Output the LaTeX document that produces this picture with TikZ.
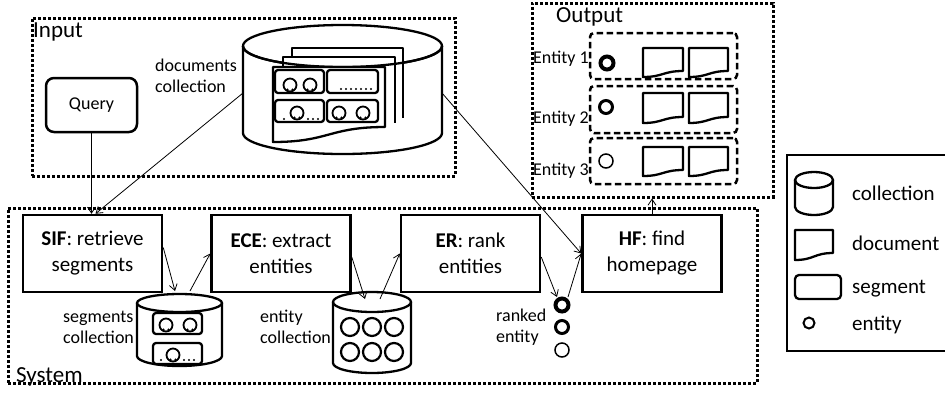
\documentclass[tikz,border=0pt]{standalone}
\usepackage{fontspec}
\setmainfont{Carlito}
\usetikzlibrary{arrows.meta}
\newcommand\mydoc[5]{\draw[shp, fill=white] (#1,#4) -- (#1,#3) -- (#2,#3) -- (#2,#5) .. controls ({(#1+#2)/2},#5) and ({(#1+#2)/2},#4) .. (#1,#4) -- cycle;}
\newcommand\myseg[4]{\draw[shp, rounded corners=3pt, fill=white] (#1,#3) rectangle (#2,#4);}
\newcommand\segcirc[2]{\draw[line width=1.8pt] (#1,#2) circle[radius=6.5pt];
  \fill ({#1-2.5},{#2+4.5}) circle[radius=1.1pt]; \fill ({#1+2.5},{#2+4.5}) circle[radius=1.1pt];}
\newcommand\mydots[2]{\foreach \xx in {#1} {\fill (\xx,#2) circle[radius=1.1pt];}}
\begin{document}
\begin{tikzpicture}[x=1pt,y=-1pt,
  shp/.style={line width=2.3pt, line join=round},
  dotbox/.style={draw, line width=3pt, dash pattern=on 3pt off 2pt, inner sep=0pt},
  dashbox/.style={draw, line width=2.5pt, dash pattern=on 6.5pt off 3.5pt, rounded corners=4pt, inner sep=0pt, minimum width=147pt},
  procbox/.style={draw, line width=2.5pt, minimum width=139pt, minimum height=77pt, inner sep=0pt, align=center, font=\fontsize{21}{26}\selectfont},
  conn/.style={line width=0.8pt, -{Straight Barb[length=6pt,width=8pt]}},
  lbl/.style={inner sep=0pt, align=left, font=\fontsize{18}{21}\selectfont},
  biglbl/.style={inner sep=0pt, font=\fontsize{23}{26}\selectfont},
  leglbl/.style={inner sep=0pt, font=\fontsize{21}{24}\selectfont, anchor=base west},
]
\useasboundingbox (0,0) rectangle (945,392);

% frames
\node[dotbox, minimum width=423pt, minimum height=158pt] (inbox) at (243.5,97) {};
\node[dotbox, minimum width=241pt, minimum height=194pt] (outbox) at (652.5,100) {};
\node[dotbox, minimum width=749pt, minimum height=175pt] (sysbox) at (382.5,295.5) {};
\node[biglbl, anchor=base west] (inlbl) at (33,37) {Input};
\node[biglbl, anchor=base west] (outlbl) at (556,22) {Output};
\node[biglbl, anchor=base west] (syslbl) at (16,382) {System};

% query
\node[draw, line width=2.5pt, rounded corners=8pt, minimum width=91pt, minimum height=54pt, inner sep=0pt, font=\fontsize{18}{21}\selectfont] (query) at (91.5,105) {Query};

% documents collection
\draw[shp, fill=white] (243,46) -- (243,133) arc[start angle=180, end angle=360, x radius=99.5pt, y radius=21pt] -- (442,46);
\draw[shp] (342.5,46) ellipse[x radius=99.5pt, y radius=21pt];
\draw[shp, fill=white] (292,118) -- (292,48) -- (403,48) -- (403,118);
\draw[shp, fill=white] (283,123) -- (283,57) -- (395,57) -- (395,123);
\draw[shp] (243,46) arc[start angle=180, end angle=360, x radius=99.5pt, y radius=21pt];
\mydoc{273}{385}{67}{142}{127}
\myseg{275}{324}{70}{93}
\myseg{327}{378}{70}{93}
\myseg{275}{324}{100}{122}
\myseg{327}{378}{100}{122}
\segcirc{290}{85}\segcirc{310}{85}
\mydots{341,346,351,356,361,366,371}{89}
\mydots{284,308,313,318}{119}
\segcirc{297}{113}
\segcirc{339}{113}\segcirc{363}{113}
\node[lbl, anchor=base west] (doclbl) at (155,92) {documents\\collection};

% process boxes
\node[procbox] (sif) at (92.5,253.5) {\textbf{SIF}: retrieve\\segments};
\node[procbox] (ece) at (281,253.5) {\textbf{ECE}: extract\\entities};
\node[procbox] (er) at (470.5,253.5) {\textbf{ER}: rank\\entities};
\node[procbox] (hf) at (652,253.5) {\textbf{HF}: find\\homepage};

% segments collection
\draw[shp, fill=white] (137,303) -- (137,356) arc[start angle=180, end angle=360, x radius=42.5pt, y radius=10pt] -- (222,303);
\draw[shp] (179.5,303) ellipse[x radius=42.5pt, y radius=9pt];
\myseg{153}{202}{313}{334}
\myseg{153}{202}{343}{364}
\segcirc{166}{325}\segcirc{190}{325}
\mydots{161,184,189,194}{360}
\segcirc{173}{355}
\node[lbl, anchor=base west] (seglbl) at (63,343) {segments\\collection};

% entity collection
\draw[shp, fill=white] (333,302) -- (333,363) arc[start angle=180, end angle=360, x radius=39pt, y radius=10pt] -- (411,302);
\draw[shp] (372,302) ellipse[x radius=39pt, y radius=10pt];
\foreach \cx in {350,372,394} {
  \draw[line width=2.2pt] (\cx,327) circle[radius=9pt];
  \draw[line width=2.2pt] (\cx,352) circle[radius=9pt];
}
\node[lbl, anchor=base west] (entlbl) at (260,343) {entity\\collection};

% ranked entity
\draw[line width=4pt] (562,305) circle[radius=6.5pt];
\draw[line width=3pt] (562,327) circle[radius=6.5pt];
\draw[line width=1.5pt] (562,350) circle[radius=7pt];
\node[lbl, anchor=base west] (ranklbl) at (496,342) {ranked\\entity};

% output rows
\node[dashbox, minimum height=46pt] (row1) at (663.5,56) {};
\node[dashbox, minimum height=47pt] (row2) at (663.5,109.5) {};
\node[dashbox, minimum height=46pt] (row3) at (663.5,161) {};
\node[lbl, anchor=base west] (e1) at (533,63) {Entity 1};
\node[lbl, anchor=base west] (e2) at (533,123) {Entity 2};
\node[lbl, anchor=base west] (e3) at (533,175) {Entity 3};
\draw[line width=4pt] (607,63) circle[radius=6.5pt];
\draw[line width=3pt] (606,107) circle[radius=6.5pt];
\draw[line width=1.5pt] (606,161) circle[radius=7pt];
\mydoc{643}{683}{48}{77}{71}\mydoc{689}{728}{48}{77}{71}
\mydoc{643}{683}{93}{123}{117}\mydoc{689}{728}{93}{123}{117}
\mydoc{643}{683}{147}{176}{170}\mydoc{689}{728}{147}{176}{170}

% legend
\node[draw, line width=2.2pt, minimum width=180pt, minimum height=196pt, inner sep=0pt] (legend) at (877,253) {};
\draw[shp, fill=white] (795,180) -- (795,207) arc[start angle=180, end angle=360, x radius=19pt, y radius=8pt] -- (833,180);
\draw[shp] (814,180) ellipse[x radius=19pt, y radius=8pt];
\mydoc{795}{833}{230}{260}{253}
\draw[shp, rounded corners=4pt] (795,275) rectangle (841,299);
\draw[line width=2pt] (809,323) circle[radius=5.5pt];
\node[leglbl] (lg1) at (852,200) {collection};
\node[leglbl] (lg2) at (852,250) {document};
\node[leglbl] (lg3) at (852,293) {segment};
\node[leglbl] (lg4) at (852,330) {entity};

% connectors
\coordinate (docL) at (243,93);
\coordinate (docR) at (442,93);
\coordinate (segA) at (175,291);
\coordinate (segB) at (190,291);
\coordinate (entA) at (365,299);
\coordinate (entB) at (380,299);
\coordinate (rankA) at (557,297);
\coordinate (rankB) at (568,297);
\draw[conn] (query.south) -- (query.south |- sif.north);
\draw[conn] (docL) -- ([xshift=3pt]sif.north);
\draw[conn] ([yshift=6pt]sif.east) -- (segA);
\draw[conn] (segB) -- (ece.west);
\draw[conn] ([yshift=-3.5pt]ece.east) -- (entA);
\draw[conn] (entB) -- (er.west);
\draw[conn] ([yshift=-3.5pt]er.east) -- (rankA);
\draw[conn] (rankB) -- (hf.west);
\draw[conn] (docR) -- (hf.west);
\draw[conn] (hf.north) -- (hf.north |- outbox.south);
\end{tikzpicture}
\end{document}
